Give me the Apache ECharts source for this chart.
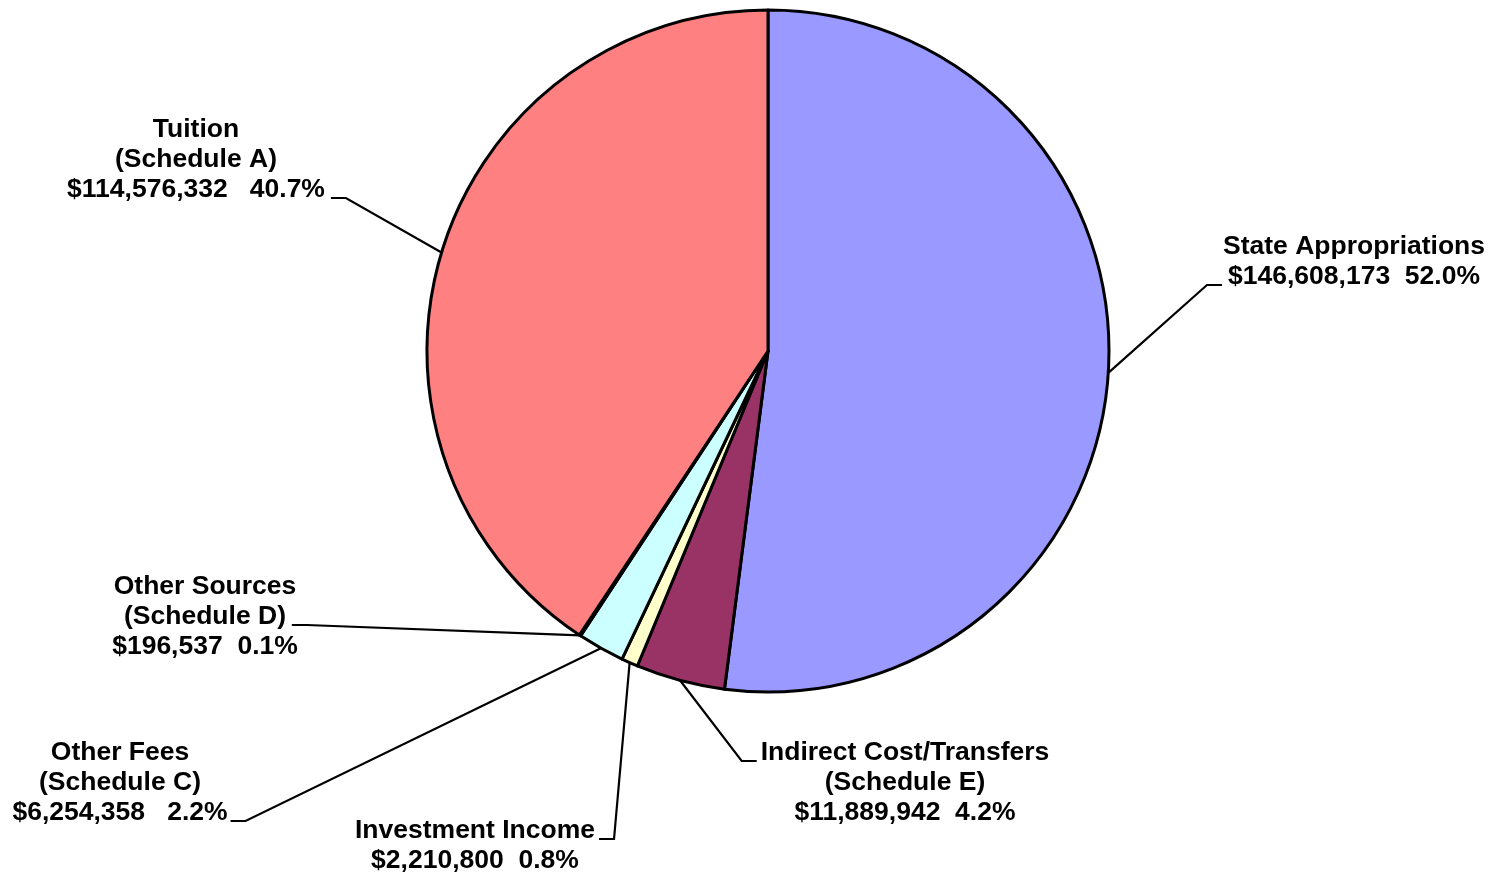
<!DOCTYPE html>
<html>
<head>
<meta charset="utf-8">
<script src="https://cdn.jsdelivr.net/npm/echarts@6/dist/echarts.min.js"></script>
<style>
html,body{margin:0;padding:0;background:#fff;}
#chart{width:1494px;height:877px;}
</style>
</head>
<body>
<div id="chart"></div>
<script>
const categories = [
  'State Appropriations',
  'Indirect Cost/Transfers\n(Schedule E)',
  'Investment Income',
  'Other Fees\n(Schedule C)',
  'Other Sources\n(Schedule D)',
  'Tuition\n(Schedule A)'
];
const amounts = [146608173, 11889942, 2210800, 6254358, 196537, 114576332];
const sliceColors = ['#9999FF', '#993366', '#FFFFCC', '#CCFFFF', '#660066', '#FF8080'];
const gaps = ['  ', '  ', '  ', '   ', '  ', '   '];

// label placement (layout only): center x, top y, side the leader attaches, line index of attachment
const placement = [
  {x: 1354, y: 232, side: 'left', line: 1, gap: 1},
  {x: 905, y: 738, side: 'left', line: 0, gap: 4},
  {x: 475, y: 816, side: 'right', line: 0, gap: 4},
  {x: 120, y: 738, side: 'right', line: 2, gap: 3},
  {x: 205, y: 572, side: 'right', line: 1, gap: -6},
  {x: 196, y: 115, side: 'right', line: 2, gap: 6}
];

const CX = 768, CY = 351, R = 341;
const total = amounts.reduce((a, b) => a + b, 0);

function fmt(n) {
  return '$' + n.toString().replace(/\B(?=(\d{3})+(?!\d))/g, ',');
}

const chart = echarts.init(document.getElementById('chart'), null, {renderer: 'canvas'});
chart.setOption({
  backgroundColor: '#ffffff',
  animation: false,
  series: [{
    type: 'pie',
    center: [CX, CY],
    radius: [0, R],
    startAngle: 90,
    clockwise: true,
    avoidLabelOverlap: false,
    percentPrecision: 1,
    data: categories.map((c, i) => ({
      name: c,
      value: amounts[i],
      itemStyle: {color: sliceColors[i]}
    })),
    itemStyle: {borderColor: '#000', borderWidth: 3},
    emphasis: {disabled: true},
    label: {
      show: true,
      position: 'outside',
      color: '#000',
      fontFamily: 'Liberation Sans, Arial, sans-serif',
      fontWeight: 'bold',
      fontSize: 26.5,
      lineHeight: 30,
      align: 'center',
      formatter: p => p.name + '\n' + fmt(p.value) + gaps[p.dataIndex] + (p.value / total * 100).toFixed(1) + '%'
    },
    labelLine: {
      show: true,
      length: 20,
      length2: 15,
      lineStyle: {color: '#000', width: 2.2}
    },
    labelLayout: function (params) {
      const i = params.dataIndex;
      const p = placement[i];
      const w = params.labelRect.width;
      const left = p.x - w / 2;
      const ly = p.y + p.line * 30 + 23;
      let ex, bx;
      if (p.side === 'right') { ex = left + w + p.gap; bx = ex + 15; }
      else { ex = left - p.gap; bx = ex - 15; }
      let start;
      if (params.labelLinePoints && params.labelLinePoints[0]) {
        start = params.labelLinePoints[0];
      } else {
        let cum = 0;
        for (let k = 0; k < i; k++) cum += amounts[k];
        const mid = (cum + amounts[i] / 2) / total * 2 * Math.PI;
        start = [CX + R * Math.sin(mid), CY - R * Math.cos(mid)];
      }
      return {
        x: p.x,
        y: p.y,
        align: 'center',
        verticalAlign: 'top',
        labelLinePoints: [start, [bx, ly], [ex, ly]]
      };
    }
  }]
});
</script>
</body>
</html>
